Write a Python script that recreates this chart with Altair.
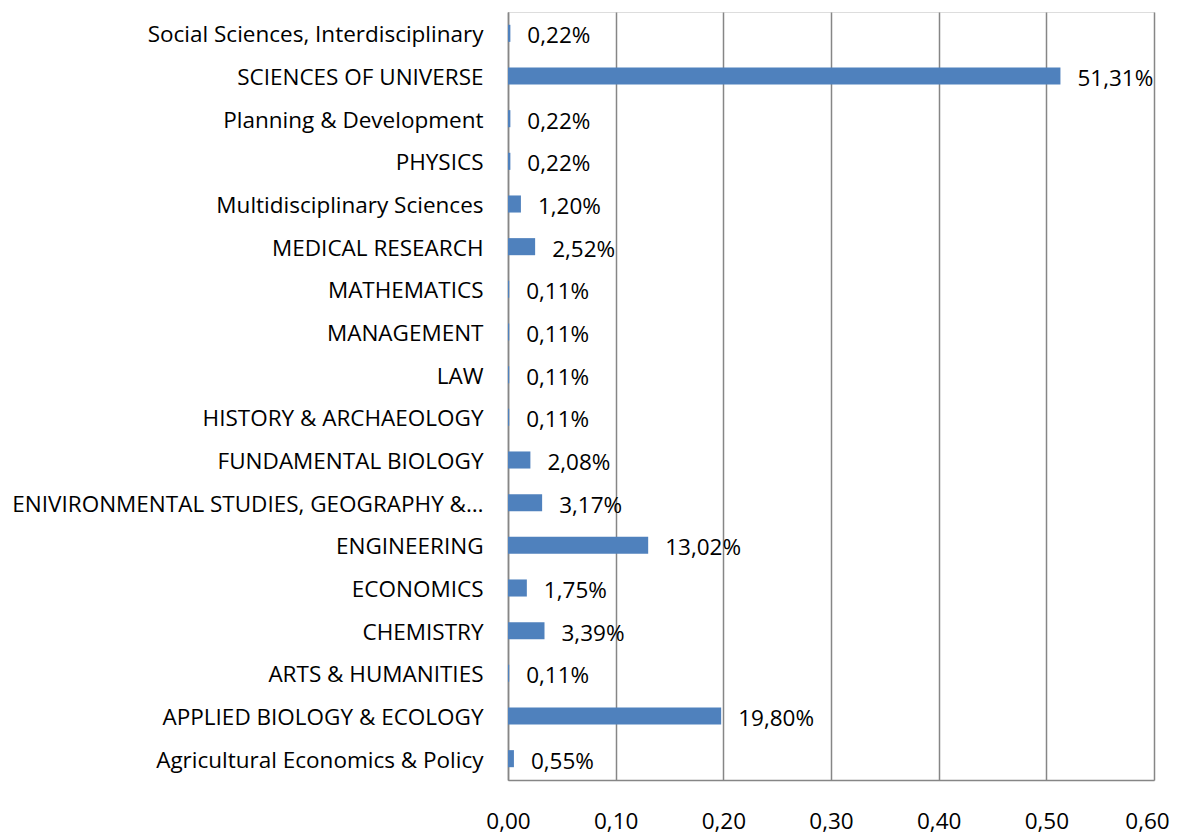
import altair as alt
import pandas as pd

categories = [
    "Social Sciences, Interdisciplinary",
    "SCIENCES OF UNIVERSE",
    "Planning & Development",
    "PHYSICS",
    "Multidisciplinary Sciences",
    "MEDICAL RESEARCH",
    "MATHEMATICS",
    "MANAGEMENT",
    "LAW",
    "HISTORY & ARCHAEOLOGY",
    "FUNDAMENTAL BIOLOGY",
    "ENIVIRONMENTAL STUDIES, GEOGRAPHY &\u2026",
    "ENGINEERING",
    "ECONOMICS",
    "CHEMISTRY",
    "ARTS & HUMANITIES",
    "APPLIED BIOLOGY & ECOLOGY",
    "Agricultural Economics & Policy",
]
values = [0.0022, 0.5131, 0.0022, 0.0022, 0.0120, 0.0252, 0.0011, 0.0011, 0.0011,
          0.0011, 0.0208, 0.0317, 0.1302, 0.0175, 0.0339, 0.0011, 0.1980, 0.0055]
labels = ["0,22%", "51,31%", "0,22%", "0,22%", "1,20%", "2,52%", "0,11%", "0,11%", "0,11%",
          "0,11%", "2,08%", "3,17%", "13,02%", "1,75%", "3,39%", "0,11%", "19,80%", "0,55%"]
ticks = [0, 0.1, 0.2, 0.3, 0.4, 0.5, 0.6]

df = pd.DataFrame({"category": categories, "value": values, "label": labels})

FONT = "Open Sans"
FS = 22.5
GRID = "#868686"

y_enc = alt.Y("category:N", sort=None, title=None,
              scale=alt.Scale(paddingInner=0.6, paddingOuter=0.3),
              axis=alt.Axis(domainColor=GRID, domainWidth=1.5, ticks=False,
                            labelPadding=25, labelLimit=0, labelFontSize=FS,
                            labelOffset=2,
                            labelFont=FONT, labelColor="#000000"))

x_enc = alt.X("value:Q", title=None,
              scale=alt.Scale(domain=[0, 0.6], nice=False),
              axis=alt.Axis(values=ticks, labelFlush=False,
                            labelOffset={"expr": "datum.value >= 0.6 ? -7 : 0"},
                            labelExpr="replace(format(datum.value, '.2f'), '.', ',')",
                            grid=True, gridColor=GRID, gridWidth=1.5,
                            domainColor=GRID, domainWidth=1.5, ticks=False,
                            labelPadding=30, labelFontSize=FS, labelFont=FONT,
                            labelColor="#000000"))

base = alt.Chart(df).encode(y=y_enc, x=x_enc)

bars = base.mark_bar(color="#4F81BD")
text = base.mark_text(align="left", baseline="middle", dx=17, dy=3,
                      fontSize=FS, font=FONT, color="#000000").encode(text="label:N")

chart = (bars + text).properties(
    width=646, height=768,
    autosize=alt.AutoSizeParams(type="none"),
    padding={"left": 500, "top": 4, "right": 18, "bottom": 56},
).configure_view(stroke=None).configure(background="#ffffff")

chart.save("out.html", embed_options={"renderer": "svg", "actions": False})
